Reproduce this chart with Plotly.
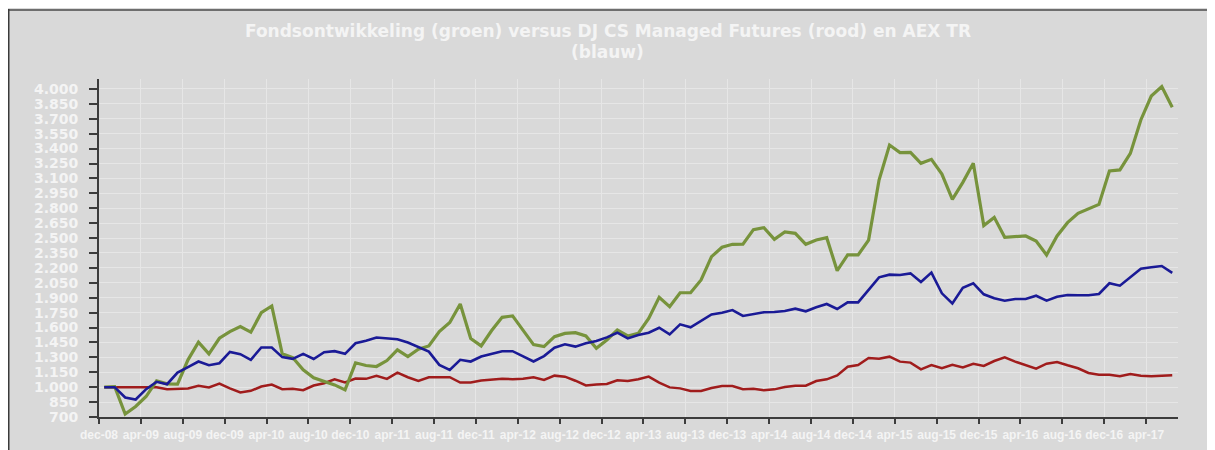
import plotly.graph_objects as go

TITLE_LINE1 = "Fondsontwikkeling (groen) versus DJ CS Managed Futures (rood) en AEX TR"
TITLE_LINE2 = "(blauw)"

TICK_LABELS = ["dec-08", "apr-09", "aug-09", "dec-09", "apr-10", "aug-10", "dec-10",
               "apr-11", "aug-11", "dec-11", "apr-12", "aug-12", "dec-12", "apr-13",
               "aug-13", "dec-13", "apr-14", "aug-14", "dec-14", "apr-15", "aug-15",
               "dec-15", "apr-16", "aug-16", "dec-16", "apr-17"]

fonds = [1000, 1005, 730, 806, 906, 1064, 1033, 1030, 1275, 1452,
         1335, 1492, 1559, 1610, 1553, 1750, 1817, 1335, 1298, 1174,
         1095, 1057, 1023, 973, 1245, 1218, 1208, 1268, 1375, 1308,
         1382, 1415, 1559, 1650, 1837, 1489, 1415, 1570, 1703, 1717,
         1570, 1428, 1408, 1508, 1541, 1548, 1515, 1391, 1475, 1575,
         1515, 1541, 1692, 1904, 1810, 1950, 1950, 2078, 2313, 2407,
         2437, 2438, 2585, 2604, 2487, 2561, 2548, 2437, 2480, 2504,
         2172, 2330, 2330, 2480, 3084, 3436, 3359, 3362, 3252, 3292,
         3144, 2890, 3060, 3252, 2625, 2708, 2507, 2514, 2521, 2470,
         2330, 2521, 2655, 2749, 2792, 2839, 3175, 3185, 3352, 3688,
         3929, 4023, 3815]

aex = [1000, 1000, 896, 876, 980, 1054, 1030, 1147, 1201, 1258,
       1221, 1241, 1355, 1332, 1275, 1399, 1399, 1302, 1285, 1335,
       1283, 1352, 1362, 1335, 1442, 1466, 1499, 1489, 1482, 1449,
       1402, 1358, 1224, 1174, 1275, 1258, 1308, 1335, 1362, 1362,
       1308, 1259, 1313, 1397, 1431, 1408, 1441, 1464, 1501, 1548,
       1491, 1525, 1548, 1598, 1531, 1632, 1602, 1669, 1732, 1749,
       1776, 1716, 1736, 1753, 1756, 1766, 1790, 1763, 1803, 1837,
       1786, 1853, 1853, 1978, 2105, 2132, 2128, 2145, 2058, 2152,
       1944, 1843, 2000, 2045, 1934, 1894, 1870, 1887, 1887, 1920,
       1870, 1910, 1927, 1924, 1924, 1937, 2045, 2021, 2108, 2192,
       2206, 2219, 2149]

djcs = [1000, 1000, 1000, 1000, 1000, 1000, 980, 980, 987, 1013,
        997, 1037, 987, 946, 963, 1007, 1027, 980, 983, 970,
        1017, 1040, 1080, 1047, 1087, 1084, 1114, 1084, 1147, 1100,
        1064, 1100, 1100, 1100, 1047, 1047, 1067, 1074, 1084, 1080,
        1084, 1100, 1072, 1116, 1106, 1065, 1018, 1028, 1032, 1069,
        1062, 1079, 1106, 1045, 998, 988, 961, 961, 991, 1012,
        1012, 980, 985, 968, 978, 1002, 1015, 1015, 1062, 1079,
        1119, 1206, 1223, 1293, 1286, 1307, 1257, 1247, 1179, 1223,
        1190, 1226, 1198, 1236, 1213, 1263, 1300, 1257, 1223, 1186,
        1236, 1253, 1220, 1190, 1143, 1126, 1126, 1109, 1133, 1116,
        1109, 1116, 1119]

x = list(range(len(fonds)))
tickvals = [-0.5 + 4 * k for k in range(len(TICK_LABELS))]

FONT = "DejaVu Sans"
XFONT = "Liberation Sans"
TXT = "#f4f4f4"
BG = "#d9d9d9"
AXC = "#3c3c3c"

fig = go.Figure()
fig.add_trace(go.Scatter(x=x, y=djcs, mode="lines", line=dict(color="#a01c1c", width=2.5)))
fig.add_trace(go.Scatter(x=x, y=fonds, mode="lines", line=dict(color="#77933c", width=3.2)))
fig.add_trace(go.Scatter(x=x, y=aex, mode="lines", line=dict(color="#1a1a96", width=2.6)))

# figure is placed at an 8px page offset; work in figure coordinates
W, H = 1207, 442
L, R, T, B = 91, 37, 71, 33
pw, ph = W - L - R, H - T - B
def px(v):
    return (v - L) / pw
def py(v):
    return (H - B - v) / ph

shapes = [
    dict(type="line", xref="paper", yref="paper", x0=px(0), x1=px(W + 5), y0=py(2), y1=py(2),
         line=dict(color="#6e6e6e", width=2)),
    dict(type="line", xref="paper", yref="paper", x0=px(0), x1=px(0), y0=py(1), y1=py(H + 5),
         line=dict(color="#3a3a3a", width=3)),
]

tfont = dict(family=FONT, size=17, color=TXT, weight="bold")
annotations = [
    dict(text=TITLE_LINE1, xref="paper", yref="paper", x=px(599.5), y=py(23),
         xanchor="center", yanchor="middle", showarrow=False, font=tfont),
    dict(text=TITLE_LINE2, xref="paper", yref="paper", x=px(599.5), y=py(44),
         xanchor="center", yanchor="middle", showarrow=False, font=tfont),
]

fig.update_layout(
    width=W, height=H,
    margin=dict(l=L, r=R, t=T, b=B, autoexpand=False),
    paper_bgcolor=BG, plot_bgcolor=BG,
    showlegend=False,
    separators=",.",
    shapes=shapes,
    annotations=annotations,
    xaxis=dict(range=[-0.5, 102.55], tickmode="array", tickvals=tickvals, ticktext=TICK_LABELS,
               tickangle=0, showgrid=True, gridcolor="#e6e6e6", gridwidth=1,
               showline=True, linecolor=AXC, linewidth=2, ticks="outside", ticklen=5,
               tickcolor=AXC, tickwidth=2, zeroline=False, ticklabelstandoff=1,
               tickfont=dict(family=XFONT, size=12, color=TXT, weight="bold")),
    yaxis=dict(range=[700, 4100], tick0=700, dtick=150, tickformat=",.0f",
               showgrid=True, gridcolor="#e6e6e6", gridwidth=1,
               showline=True, linecolor=AXC, linewidth=2, ticks="outside", ticklen=8,
               tickcolor=AXC, tickwidth=2, zeroline=False, ticklabelstandoff=8,
               tickfont=dict(family=FONT, size=14, color=TXT, weight="bold")),
)

fig.write_html("out.html")
